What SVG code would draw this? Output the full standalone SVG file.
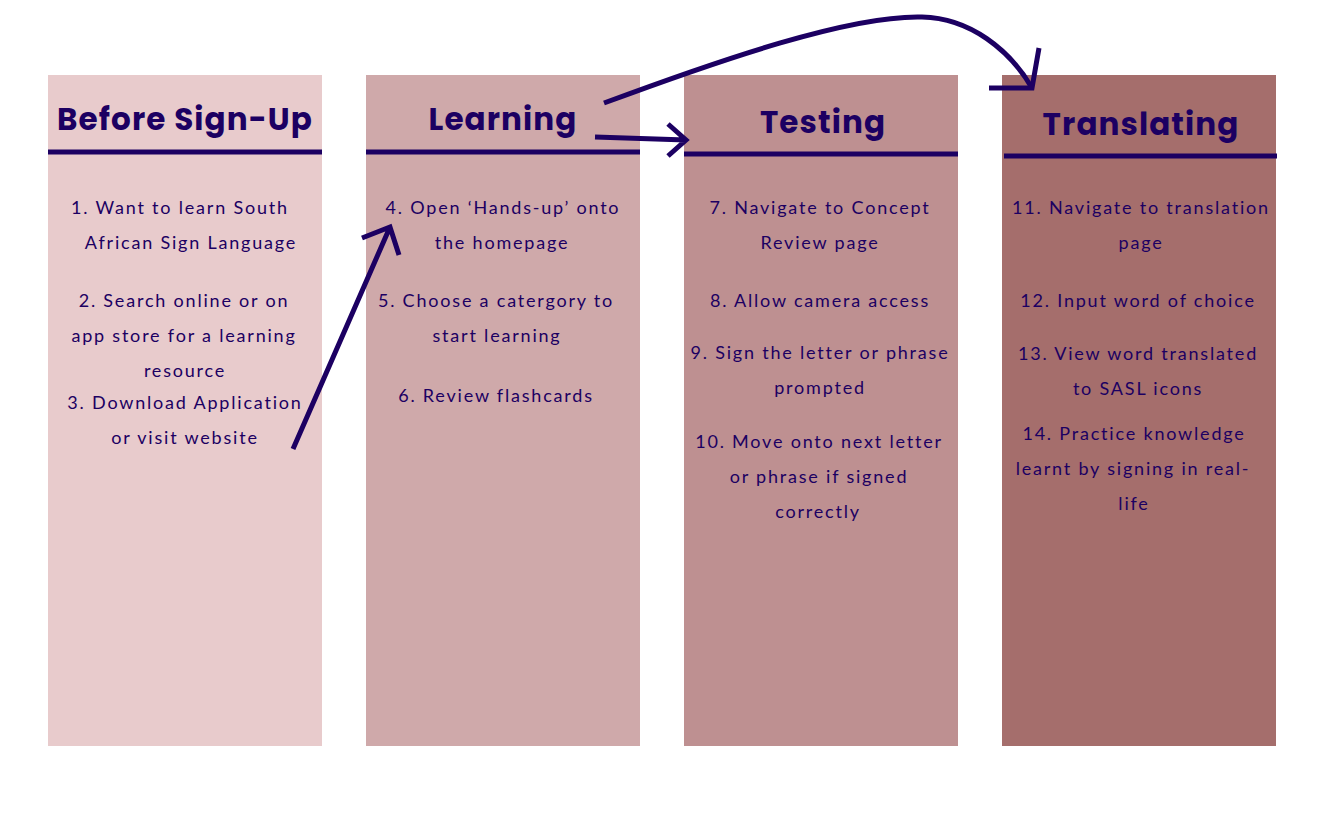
<svg xmlns="http://www.w3.org/2000/svg" width="1335" height="832" viewBox="0 0 1335 832">
<style>
.h{font-family:Poppins,Inter,"Noto Sans",sans-serif;font-weight:700;font-size:31px;letter-spacing:1.1px;fill:#1C0062;text-anchor:middle}
.t{font-family:Lato,"Liberation Sans",sans-serif;font-size:18px;letter-spacing:1.8px;fill:#1C0062;text-anchor:middle}
.ul{stroke:#1C0062;stroke-width:5}
.c{fill:none;stroke:#1C0062;stroke-width:5}
</style>
<rect width="1335" height="832" fill="#fff"/>
<g id="col1">
<rect x="48" y="75" width="274" height="671" fill="#E8CBCC"/>
<text class="h" x="185" y="130">Before Sign-Up</text>
<line class="ul" x1="48" y1="152" x2="322" y2="152"/>
<text class="t" x="180" y="214">1. Want to learn South</text>
<text class="t" x="191" y="249">African Sign Language</text>
<text class="t" x="184" y="307">2. Search online or on</text>
<text class="t" x="184" y="342">app store for a learning</text>
<text class="t" x="185" y="377">resource</text>
<text class="t" x="185" y="409">3. Download Application</text>
<text class="t" x="185" y="444">or visit website</text>
</g>
<g id="col2">
<rect x="366" y="75" width="274" height="671" fill="#CFA9AA"/>
<text class="h" x="503" y="130">Learning</text>
<line class="ul" x1="366" y1="152" x2="640" y2="152"/>
<text class="t" x="503" y="214">4. Open ‘Hands-up’ onto</text>
<text class="t" x="502" y="249">the homepage</text>
<text class="t" x="496" y="307">5. Choose a catergory to</text>
<text class="t" x="497" y="342">start learning</text>
<text class="t" x="496" y="402">6. Review flashcards</text>
</g>
<g id="col3">
<rect x="684" y="75" width="274" height="671" fill="#BE9091"/>
<text class="h" x="823" y="133">Testing</text>
<line class="ul" x1="684" y1="154" x2="958" y2="154"/>
<text class="t" x="820" y="214">7. Navigate to Concept</text>
<text class="t" x="820" y="249">Review page</text>
<text class="t" x="820" y="307">8. Allow camera access</text>
<text class="t" x="820" y="359">9. Sign the letter or phrase</text>
<text class="t" x="820" y="394">prompted</text>
<text class="t" x="819" y="448">10. Move onto next letter</text>
<text class="t" x="819" y="483">or phrase if signed</text>
<text class="t" x="818" y="518">correctly</text>
</g>
<g id="col4">
<rect x="1002" y="75" width="274" height="671" fill="#A56E6C"/>
<text class="h" x="1141" y="135">Translating</text>
<line class="ul" x1="1004" y1="156" x2="1277" y2="156"/>
<text class="t" x="1141" y="214">11. Navigate to translation</text>
<text class="t" x="1141" y="249">page</text>
<text class="t" x="1138" y="307">12. Input word of choice</text>
<text class="t" x="1138" y="360">13. View word translated</text>
<text class="t" x="1138" y="395">to SASL icons</text>
<text class="t" x="1134" y="440">14. Practice knowledge</text>
<text class="t" x="1133" y="475">learnt by signing in real-</text>
<text class="t" x="1134" y="510">life</text>
</g>
<g id="connectors">
<path class="c" d="M293,449 L390,227 M362,238 L390,227 L399,255"/>
<path class="c" d="M595,137 L686,140 M668,124 L686,140 L668,156"/>
<path class="c" d="M604,103 C720,60 850,15 922,17 C970,18 1010,50 1032,88"/>
<path class="c" d="M989,88 L1032,88 L1039,48"/>
</g>
</svg>
